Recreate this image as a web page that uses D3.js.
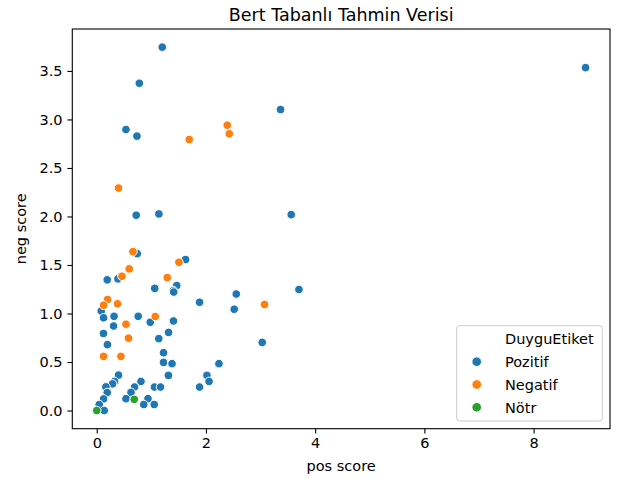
<!DOCTYPE html>
<html>
<head>
<meta charset="utf-8">
<script src="https://cdn.jsdelivr.net/npm/d3@7/dist/d3.min.js"></script>
<style>
  html, body { margin: 0; padding: 0; background: #fff; }
  svg { display: block; font-family: "DejaVu Sans", sans-serif; }
</style>
</head>
<body>
<svg id="chart" width="620" height="479"></svg>
<script>
// ---- data ----
const categories = ["Pozitif", "Negatif", "Nötr"];
const colors = ["#1f77b4", "#ff7f0e", "#2ca02c"];

const pozitifPos = [1.20, 0.78, 0.535, 0.736, 3.366, 8.952, 3.562, 0.723, 1.139, 3.703, 3.031, 0.742, 1.626,
  0.192, 0.388, 1.062, 1.465, 1.401, 1.41, 1.883, 2.555, 2.518, 0.082, 0.125, 0.317, 0.760, 0.980, 1.405,
  0.308, 1.315, 0.123, 1.136, 0.196, 1.223, 1.223, 1.379, 2.238, 1.313, 0.399, 0.326, 0.289, 0.168, 0.192,
  0.125, 0.046, 0.137, 0.810, 0.692, 0.628, 0.535, 0.938, 0.861, 1.053, 1.057, 1.168, 2.018, 2.057, 1.883];
const pozitifNeg = [3.745, 3.373, 2.896, 2.828, 3.102, 3.534, 2.019, 2.013, 2.026, 1.247, 0.702, 1.617, 1.556,
  1.347, 1.357, 1.259, 1.288, 1.235, 1.221, 1.116, 1.201, 1.044, 1.026, 0.956, 0.971, 0.971, 0.910, 0.923,
  0.871, 0.805, 0.794, 0.741, 0.679, 0.596, 0.496, 0.483, 0.483, 0.362, 0.365, 0.300, 0.275, 0.244, 0.185,
  0.120, 0.061, 0.000, 0.300, 0.242, 0.187, 0.122, 0.122, 0.062, 0.062, 0.242, 0.242, 0.362, 0.300, 0.242];

const negatifPos = [2.390, 2.427, 1.694, 0.399, 0.663, 0.595, 0.462, 1.505, 1.291, 0.198, 0.125, 0.381,
  1.071, 0.535, 0.582, 0.125, 0.443, 3.073];
const negatifNeg = [2.941, 2.852, 2.793, 2.293, 1.638, 1.460, 1.384, 1.528, 1.370, 1.144, 1.085, 1.100,
  0.969, 0.890, 0.746, 0.558, 0.558, 1.093];

const notrPos = [0.0, 0.687];
const notrNeg = [0.0, 0.115];

const xTicks = [0, 2, 4, 6, 8];
const yTicks = [0, 0.5, 1.0, 1.5, 2.0, 2.5, 3.0, 3.5];

const series = [
  { name: categories[0], xs: pozitifPos, ys: pozitifNeg, color: colors[0] },
  { name: categories[1], xs: negatifPos, ys: negatifNeg, color: colors[1] },
  { name: categories[2], xs: notrPos, ys: notrNeg, color: colors[2] }
];

// ---- layout ----
const svg = d3.select("#chart");
const pLeft = 72.3, pRight = 610, pTop = 29, pBottom = 428.7;
const fs = 14.5;

const allX = series.flatMap(s => s.xs), allY = series.flatMap(s => s.ys);
const xmin = d3.min(allX), xmax = d3.max(allX), ymin = d3.min(allY), ymax = d3.max(allY);
const xm = (xmax - xmin) * 0.05, ym = (ymax - ymin) * 0.05;

const x = d3.scaleLinear().domain([xmin - xm, xmax + xm]).range([pLeft, pRight]);
const y = d3.scaleLinear().domain([ymin - ym, ymax + ym]).range([pBottom, pTop]);

// points
series.forEach(s => {
  svg.append("g").selectAll("circle")
    .data(s.xs.map((v, i) => [v, s.ys[i]]))
    .join("circle")
    .attr("cx", d => x(d[0]))
    .attr("cy", d => y(d[1]))
    .attr("r", 4.3)
    .attr("fill", s.color)
    .attr("stroke", "#fff")
    .attr("stroke-width", 1);
});

// frame
svg.append("rect")
  .attr("x", pLeft).attr("y", pTop)
  .attr("width", pRight - pLeft).attr("height", pBottom - pTop)
  .attr("fill", "none").attr("stroke", "#000").attr("stroke-width", 1.1);

// axes
const xAxis = svg.append("g").attr("transform", `translate(0,${pBottom})`)
  .call(d3.axisBottom(x).tickValues(xTicks).tickFormat(d3.format("d")).tickSize(4.9).tickPadding(4.5));
const yAxis = svg.append("g").attr("transform", `translate(${pLeft},0)`)
  .call(d3.axisLeft(y).tickValues(yTicks).tickFormat(d3.format(".1f")).tickSize(4.9).tickPadding(4.9));
[xAxis, yAxis].forEach(a => {
  a.select(".domain").remove();
  a.selectAll("line").attr("stroke", "#000").attr("stroke-width", 1.1);
  a.selectAll("text").attr("font-size", fs).attr("fill", "#000")
    .attr("font-family", "DejaVu Sans, sans-serif");
});

// title + labels
svg.append("text").attr("x", (pLeft + pRight) / 2).attr("y", 20.5)
  .attr("text-anchor", "middle").attr("font-size", 17.5).attr("fill", "#000")
  .text("Bert Tabanlı Tahmin Verisi");
svg.append("text").attr("x", (pLeft + pRight) / 2).attr("y", 471)
  .attr("text-anchor", "middle").attr("font-size", fs).attr("fill", "#000")
  .text("pos score");
svg.append("text")
  .attr("transform", `translate(26,${(pTop + pBottom) / 2}) rotate(-90)`)
  .attr("text-anchor", "middle").attr("font-size", fs).attr("fill", "#000")
  .text("neg score");

// legend
const lg = svg.append("g");
lg.append("rect").attr("x", 456.7).attr("y", 325.7).attr("width", 145.6).attr("height", 95.3)
  .attr("rx", 3).attr("fill", "#fff").attr("fill-opacity", 0.8)
  .attr("stroke", "#ccc").attr("stroke-width", 1);
lg.append("text").attr("x", 505).attr("y", 343.5).attr("font-size", fs).attr("fill", "#000")
  .text("DuyguEtiket");
series.forEach((s, i) => {
  const cy = 361.7 + i * 22.8;
  lg.append("circle").attr("cx", 476.7).attr("cy", cy).attr("r", 4.8)
    .attr("fill", s.color).attr("stroke", "#fff").attr("stroke-width", 1);
  lg.append("text").attr("x", 505).attr("y", cy + 5.3).attr("font-size", fs).attr("fill", "#000")
    .text(s.name);
});
</script>
</body>
</html>
